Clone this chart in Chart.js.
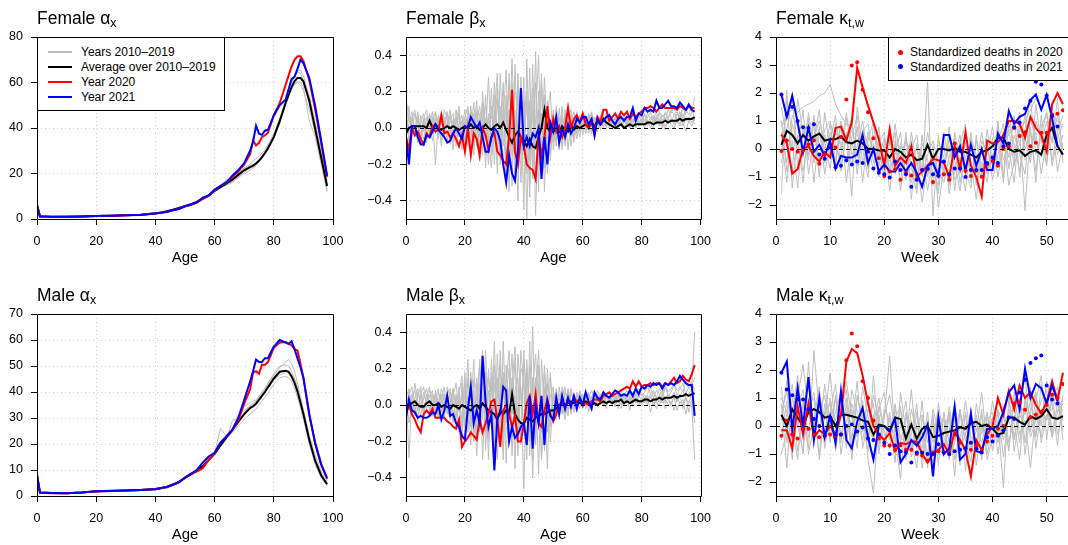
<!DOCTYPE html>
<html>
<head>
<meta charset="utf-8">
<script src="https://cdn.jsdelivr.net/npm/chart.js@4"></script>
<style>
  html, body { margin: 0; padding: 0; background: #fff; overflow: hidden; }
  #page { position: relative; width: 1068px; height: 545px; overflow: hidden;
          font-family: "Liberation Sans", Arial, Helvetica, sans-serif; color: #000; }
  canvas { position: absolute; }
  .ttl { position: absolute; font-size: 17.5px; line-height: 18px; white-space: nowrap; }
  .ttl sub { font-size: 12.5px; vertical-align: -3px; line-height: 0; }
  .lgd { position: absolute; background: #fff; border: 1px solid #000; box-sizing: border-box; font-size: 12px; }
  .it { position: absolute; height: 14px; line-height: 14px; white-space: nowrap; }
  .ln { position: absolute; left: 0; top: 6px; width: 24px; height: 2px; }
  .dot { position: absolute; top: 4.5px; width: 5px; height: 5px; border-radius: 50%; }
</style>
</head>
<body>
<div id="page">
  <div class="ttl" style="left:37px;top:9px">Female α<sub>x</sub></div>
  <div class="ttl" style="left:406px;top:9px">Female β<sub>x</sub></div>
  <div class="ttl" style="left:776px;top:9px">Female κ<sub>t,w</sub></div>
  <div class="ttl" style="left:37px;top:286px">Male α<sub>x</sub></div>
  <div class="ttl" style="left:406px;top:286px">Male β<sub>x</sub></div>
  <div class="ttl" style="left:776px;top:286px">Male κ<sub>t,w</sub></div>
</div>
<script>
// ---- x values ----
const alphaAges = [0,1,5,10,15,20,25,30,35,
  40,42,44,46,48,50,52,54,56,58,60,62,64,66,68,70,72,
  73,74,75,76,77,78, 80,82,84, 85,86,87,88,89,90, 92,94,96,98];
const betaAges = Array.from({ length: 99 }, (_, i) => i);
const weeks = Array.from({ length: 53 }, (_, i) => i + 1);

// ---- tick labels ----
const ageTicks = [0, 20, 40, 60, 80, 100];
const weekTicks = [0, 10, 20, 30, 40, 50];
const femAlphaTicks = [0, 20, 40, 60, 80];
const maleAlphaTicks = [0, 10, 20, 30, 40, 50, 60, 70];
const betaTicks = [-0.4, -0.2, 0, 0.2, 0.4];
const kappaTicks = [-2, -1, 0, 1, 2, 3, 4];

// ---- Female alpha ----
const fAlphaAvg = [6.0,1.2,1.0,1.0,1.1,1.3,1.4,1.6,1.9,
  2.5,2.9,3.4,4.1,4.8,5.6,6.4,7.5,8.9,10.4,12.3,14.0,15.6,17.3,19.4,21.4,22.8,
  23.5,24.4,25.6,27.2,29.0,31.0, 36.0,43.0,51.0, 54.5,58.0,60.5,62.0,62.0,60.5, 52.0,39.5,27.0,14.5];
const fAlpha2020 = [6.2,1.1,0.9,1.0,1.1,1.3,1.4,1.6,1.9,
  2.4,2.7,3.1,3.8,4.5,5.6,6.1,7.2,8.8,10.1,12.6,14.6,16.0,18.3,20.8,24.0,28.5,
  34.5,32.3,33.5,36.0,36.8,37.8, 45.5,51.0,59.0, 63.0,67.0,70.0,71.5,71.5,69.5, 61.0,48.0,33.5,18.5];
const fAlpha2021 = [6.0,1.1,1.0,1.0,1.1,1.3,1.4,1.6,1.8,
  2.4,2.8,3.2,3.9,4.4,5.6,6.5,7.3,9.4,10.3,12.9,14.6,16.2,19.0,21.5,24.5,30.0,
  34.0,41.0,37.5,37.0,38.8,39.2, 45.5,50.0,52.5, 57.0,61.5,62.5,66.0,70.0,68.5, 62.0,49.5,34.5,19.0];
const fAlphaYears = [
  [6.5,1.3,1.0,1.0,1.1,1.3,1.5,1.7,2.0,
   2.6,3.1,3.7,4.4,5.2,5.9,6.8,7.9,9.2,10.8,12.5,14.2,14.8,16.0,18.5,20.0,21.5,
   22.5,23.5,25.0,26.5,28.5,30.5, 35.5,42.0,50.5, 54.0,57.0,59.0,60.0,59.0,56.5, 48.0,38.0,25.5,12.5],
  [5.5,1.2,1.0,1.0,1.1,1.3,1.4,1.6,1.9,
   2.5,2.9,3.3,4.0,4.9,5.4,6.3,7.6,8.7,10.4,12.0,13.8,17.5,17.0,19.0,22.0,23.5,
   24.0,25.0,26.0,27.5,29.5,32.0, 37.0,44.0,52.5, 56.0,60.0,63.0,64.5,64.0,61.0, 50.5,41.0,28.0,15.5],
  [6.0,1.2,1.0,1.0,1.1,1.3,1.4,1.7,1.9,
   2.6,3.0,3.5,4.3,5.0,5.8,6.6,7.6,9.0,10.6,12.5,14.2,15.0,16.5,18.0,20.5,22.5,
   23.0,24.0,25.5,27.0,29.0,31.5, 36.5,43.5,51.5, 55.0,59.0,62.5,65.0,65.5,63.0, 54.0,42.5,29.5,16.5],
  [6.3,1.2,1.0,1.0,1.1,1.3,1.4,1.6,1.9,
   2.5,2.8,3.3,3.9,4.6,5.5,6.2,7.2,8.7,10.0,12.2,13.6,15.2,16.8,20.0,22.5,24.0,
   25.5,26.5,27.5,29.0,30.5,32.5, 37.5,44.0,51.0, 54.5,57.5,59.5,60.5,60.0,58.0, 43.0,36.0,24.0,12.0],
];

// ---- Male alpha ----
const mAlphaAvg = [8.0,1.3,1.2,1.1,1.3,1.8,1.9,2.1,2.3,
  2.7,3.1,3.6,4.4,5.5,7.0,8.3,9.7,11.5,13.8,16.2,19.5,22.5,25.5,28.5,31.5,33.8,
  34.5,35.5,37.0,38.5,40.0,41.8, 45.2,47.8,48.2, 47.8,46.0,43.5,40.2,36.0,31.5, 21.5,13.5,8.0,4.5];
const mAlpha2020 = [8.2,1.2,1.1,1.1,1.3,1.7,1.9,2.1,2.3,
  2.6,3.0,3.4,4.3,5.3,7.2,8.6,9.4,10.7,14.0,16.5,20.5,23.0,25.5,29.0,35.5,41.0,
  47.5,48.0,47.0,50.5,50.5,51.5, 57.0,59.0,59.2, 58.5,58.0,56.5,56.0,51.0,45.5, 31.0,20.5,12.5,6.5];
const mAlpha2021 = [8.0,1.3,1.2,1.1,1.3,1.8,2.0,2.1,2.3,
  2.6,3.1,3.5,4.4,5.2,7.0,8.5,10.0,12.8,15.2,16.6,20.5,22.8,25.3,30.0,37.0,44.0,
  48.0,52.5,51.5,51.5,53.0,53.0, 57.5,60.0,59.0, 58.5,59.5,56.5,53.0,49.5,45.5, 31.5,20.0,12.0,7.0];
const mAlphaYears = [
  [8.5,1.3,1.2,1.1,1.3,1.8,1.9,2.1,2.4,
   2.9,3.3,3.9,4.7,5.8,7.2,8.5,10.0,11.8,14.0,16.5,26.0,23.0,25.0,28.0,32.0,35.0,
   35.5,36.5,38.0,39.5,41.0,43.0, 46.5,49.5,51.5, 52.5,51.0,48.0,43.5,38.5,33.0, 22.0,13.0,7.5,4.2],
  [7.8,1.3,1.2,1.1,1.3,1.8,1.9,2.1,2.3,
   2.7,3.0,3.5,4.3,5.4,6.8,8.1,9.6,11.3,13.5,16.0,19.0,22.0,29.0,30.0,34.5,36.0,
   36.5,37.0,38.5,40.0,41.5,43.5, 47.0,50.0,50.5, 50.0,48.0,45.0,41.5,36.5,31.0, 20.0,12.0,7.0,4.0],
  [8.0,1.3,1.2,1.1,1.3,1.8,1.9,2.1,2.3,
   2.7,3.1,3.6,4.4,5.6,7.0,8.2,9.8,11.6,13.9,16.0,19.0,22.0,24.5,27.0,29.5,31.5,
   32.5,33.5,35.0,36.5,38.0,39.5, 43.0,45.5,46.0, 45.5,44.0,41.5,38.0,34.0,29.5, 20.5,13.0,8.0,4.8],
  [7.5,1.3,1.2,1.1,1.3,1.8,1.9,2.1,2.3,
   2.8,3.2,3.7,4.5,5.6,7.1,8.4,9.9,11.7,14.2,16.8,20.0,23.5,26.0,31.0,33.0,34.5,
   35.5,36.5,37.5,38.5,40.0,41.5, 44.5,46.5,47.5, 48.0,47.0,45.0,42.0,37.5,33.0, 23.5,15.5,9.5,5.5],
];

// ---- Female beta (ages 0..98) ----
const fBetaAvg = [
  -.03,.00,.01,.01,.01,.01,.01,.00,.04,.00,  .02,.00,-.01,.00,.01,.00,.01,.00,-.01,.00,
  .01,.00,.02,.00,.01,-.01,.00,.02,.00,-.01,  .01,.02,.00,.03,-.01,-.05,-.08,-.04,-.02,-.05,
  -.07,-.10,-.06,-.10,-.11,-.05,.00,.10,.00,-.02,  -.02,.00,-.02,.01,-.01,-.02,.02,-.01,.01,.00,
  .01,.02,.00,.03,.01,.04,.02,.05,.03,.02,  .01,.00,.01,.02,.00,.01,.02,.01,.02,.02,
  .02,.02,.03,.03,.02,.03,.03,.03,.04,.03,  .04,.04,.04,.05,.04,.05,.05,.05,.06];
const fBeta2020 = [
  -.05,-.12,.00,-.04,-.02,-.06,-.09,-.03,-.05,.01,  -.02,-.01,.07,-.03,-.02,-.05,-.03,-.06,-.10,-.04,
  -.13,.00,-.15,-.03,-.06,-.15,.00,-.04,-.12,-.05,  -.03,-.13,-.15,-.18,-.20,-.05,.21,-.13,-.20,-.05,
  -.10,-.20,-.22,-.23,-.28,-.05,-.15,-.05,.12,-.05,  .05,-.02,.01,-.05,.00,.11,.00,.05,.07,.03,
  .08,.02,.00,.04,-.04,.06,.03,.10,.10,.04,  .06,.08,.05,.09,.07,.09,.05,.08,.06,.08,
  .09,.11,.11,.12,.11,.09,.11,.13,.11,.11,  .11,.11,.10,.12,.11,.10,.12,.11,.11];
const fBeta2021 = [
  -.05,-.20,.01,.01,-.05,-.09,-.09,-.04,-.05,-.02,  .02,-.01,-.03,-.05,-.08,-.07,-.03,.00,-.03,-.06,
  .01,.00,.06,.03,.00,.03,-.05,-.13,-.13,-.05,  .00,-.02,-.07,-.20,-.30,-.15,-.25,-.29,-.12,.22,
  -.10,-.05,-.10,-.03,-.05,.00,-.28,-.05,-.20,.03,  -.02,.06,-.08,.00,-.05,.02,-.03,.00,.05,.03,
  .06,.06,.02,.05,-.04,.05,.02,.04,.06,.07,  .04,.02,.05,.06,.04,.06,.06,.11,.04,.08,
  .07,.11,.09,.10,.09,.15,.11,.11,.13,.15,  .12,.12,.11,.14,.12,.10,.13,.10,.09];
const fBetaYears = [
  [.17,.05,-.02,.08,.03,-.06,.05,.10,-.03,.06,  -.20,.04,.08,-.05,.02,.10,-.08,.03,.12,-.06,
   .05,-.10,.12,-.04,.15,-.12,.20,-.05,.28,-.15,  .10,-.25,.30,-.10,.18,-.35,.25,-.20,.05,.15,
   -.45,.38,-.18,.10,-.30,.20,-.15,.18,-.25,.05,  -.08,.10,-.12,.05,-.02,.08,-.10,.06,.02,-.05,
   .06,-.03,.08,.01,.05,-.02,.07,.03,.06,.02,  .05,.01,.06,.03,.04,.02,.07,.04,.05,.03,
   .06,.04,.08,.05,.07,.03,.09,.06,.08,.05,  .10,.07,.09,.06,.11,.08,.12,.09,.10],
  [.10,-.08,.06,-.03,.09,-.05,.04,-.08,.07,.02,  .05,-.06,.09,.02,-.07,.04,.08,-.10,.02,.07,
   -.08,.10,-.02,.14,-.06,.08,-.15,.18,-.10,.22,  -.20,.15,-.05,.25,-.28,.10,-.32,.35,-.12,-.20,
   .28,-.50,.15,-.22,.42,-.35,.25,-.10,.12,-.18,  .06,-.10,.11,-.05,.08,-.12,.04,.09,-.03,.07,
   -.04,.05,.02,.08,-.01,.04,.06,.00,.05,.03,  .02,.06,.00,.05,.03,.07,.01,.04,.06,.02,
   .04,.07,.02,.06,.03,.05,.08,.02,.06,.04,  .03,.07,.05,.02,.08,.04,.06,.03,.05],
  [.03,.12,-.05,.02,-.08,.07,-.02,.05,.00,-.07,  .08,.00,-.04,.10,.05,-.09,.02,.06,-.05,.00,
   .10,-.04,.06,-.10,.03,.12,-.02,-.15,.08,.05,  .18,-.08,.12,-.22,.05,.25,-.15,.10,-.40,.28,
   -.10,.15,-.30,.35,-.12,-.05,.30,-.35,.08,.20,  -.12,.04,-.05,.12,-.08,.03,.10,-.06,.05,-.02,
   .03,.07,-.03,.04,.06,.01,.03,.08,.00,.05,  .04,.00,.05,.02,.06,.01,.03,.05,.00,.04,
   .02,.05,.01,.04,.06,.02,.03,.05,.01,.04,  .05,.02,.04,.07,.01,.05,.03,.06,.02],
  [-.05,.02,.09,-.02,.05,.00,-.06,.02,.08,-.03,  .00,.07,-.08,.03,.09,-.03,.05,-.05,.09,-.12,
   .02,.06,-.08,.08,-.10,.00,.10,.05,-.20,.12,  -.05,.22,-.15,.05,.32,-.18,.08,-.25,.30,-.08,
   .12,-.20,.33,-.28,.05,.40,-.20,.05,-.10,-.05,  .10,-.06,.02,-.10,.06,.05,-.05,.02,.09,.00,
   .05,.00,.06,-.02,.04,.07,.02,.05,.01,.06,  .03,.05,.02,.07,.00,.05,.03,.02,.06,.01,
   .05,.00,.04,.02,.00,.06,.01,.03,-.01,.05,  .02,.00,.04,.01,.03,-.02,.04,.01,.05],
  [.08,-.03,.04,.10,-.06,.03,.08,-.04,.01,.09,  -.03,.05,-.10,.06,.00,.07,-.04,.10,-.02,.04,
   -.12,.04,.09,-.15,.10,-.05,.14,-.22,.06,-.08,  .25,-.12,.08,.15,-.22,.30,-.08,.20,.12,-.30,
   .05,.20,-.38,.22,-.48,.10,-.12,.28,-.05,-.15,  .08,-.04,.06,-.12,.10,-.03,.07,-.08,.04,.06,
   .00,.04,.07,-.03,.06,.02,.05,.01,.08,.00,  .06,.03,.01,.05,.08,.02,.06,.00,.04,.07,
   .03,.08,.04,.00,.05,.09,.02,.07,.04,.10,  .06,.03,.08,.05,.12,.07,.04,.09,.17],
  [-.02,.06,.00,-.05,.07,-.09,.03,.06,-.02,.04,  .09,-.04,.03,-.02,.08,.00,-.12,.05,.07,-.03,
   .06,.12,-.04,.02,.08,-.18,.06,.12,-.05,-.22,  .08,.30,-.20,.12,.06,-.10,.38,-.05,.20,-.15,
   .15,-.25,.05,-.15,.25,-.20,.08,-.22,.15,.00,  -.05,.12,-.02,.07,-.10,.09,-.02,.04,-.06,.03,
   .07,-.02,.04,.09,.00,.05,-.01,.06,.03,.08,  .00,.04,.07,.01,.03,.06,.00,.08,.03,.05,
   .07,.02,.06,.09,.03,.07,.05,.00,.09,.06,  .08,.12,.03,.09,.05,.10,.07,.12,.04],
];

// ---- Male beta (ages 0..98) ----
const mBetaAvg = [
  -.02,.00,.01,.02,.00,-.01,-.01,.01,.02,.00,  .00,.01,-.01,.00,-.01,-.02,.00,-.01,-.02,.00,
  -.01,-.02,-.03,-.01,.00,-.02,.01,-.01,-.03,-.04,  -.05,-.08,-.03,-.05,-.03,-.05,.06,-.05,-.08,-.10,
  -.10,-.07,-.08,-.09,-.07,-.06,-.05,-.05,-.04,-.03,  -.03,-.02,.00,.01,.00,.01,.02,.01,.02,.01,
  .01,.02,.01,.00,.01,.00,.01,.02,.01,.02,  .01,.02,.02,.03,.01,.02,.01,.02,.03,.02,
  .02,.03,.03,.02,.03,.03,.04,.03,.04,.04,  .04,.05,.04,.05,.05,.06,.05,.06,.065];
const mBeta2020 = [
  -.05,.00,-.05,-.08,-.12,-.15,-.05,-.03,-.05,-.02,  -.07,-.07,-.07,-.07,-.09,-.10,-.12,-.13,-.08,-.23,
  -.20,-.18,-.15,-.17,-.19,-.08,-.15,-.10,-.05,.02,  .03,-.08,-.23,-.03,.00,-.05,-.12,-.06,-.20,-.20,
  -.10,.01,.05,-.05,.06,-.10,-.12,-.03,.03,-.05,  -.09,-.05,.00,.02,-.02,.03,.00,.04,.02,.03,
  .00,.01,.00,.02,.03,.03,.02,.05,.06,.07,  .05,.06,.07,.08,.09,.10,.09,.13,.10,.13,
  .10,.11,.11,.12,.11,.12,.12,.10,.12,.11,  .13,.15,.12,.13,.16,.14,.13,.17,.22];
const mBeta2021 = [
  -.07,.03,-.03,-.04,-.07,-.06,-.07,-.07,-.06,-.04,  -.05,.00,-.08,-.03,.05,-.06,-.05,-.10,-.12,-.17,
  -.19,-.02,.10,-.10,-.03,-.10,.27,.02,-.12,-.05,  -.36,-.07,-.05,.10,.08,-.20,-.12,-.18,-.16,-.12,
  -.10,-.22,.05,-.24,.00,-.10,.05,-.22,.02,-.06,  -.08,.04,-.05,.05,-.02,.04,-.01,.05,-.02,.04,
  .00,.07,.02,-.02,.07,.04,.03,.07,.05,.04,  .06,.08,.07,.05,.06,.05,.08,.05,.09,.06,
  .10,.09,.11,.10,.12,.11,.12,.09,.12,.11,  .12,.11,.13,.16,.14,.12,.11,.11,-.06];
const mBetaYears = [
  [.10,-.29,.05,.08,-.03,.06,.10,-.02,.05,.08,  -.05,.07,.02,-.08,.10,.04,-.10,.06,-.15,.12,
   -.20,.15,-.05,.25,-.18,.10,.30,-.25,.08,-.12,  .35,-.20,.12,-.30,.22,-.08,.15,-.35,.28,.05,
   -.46,.20,-.15,.43,-.22,.12,-.30,.18,.05,-.12,  .08,-.05,.10,.00,-.08,.06,.02,-.04,.07,.01,
   .04,-.02,.06,.02,.05,-.01,.03,.06,.00,.04,  .02,.05,-.02,.04,.06,.01,.03,.07,.02,.05,
   .03,.06,.01,.04,.07,.02,.05,.08,.03,.06,  .04,.07,.02,.05,.08,.03,.06,.09,.40],
  [-.05,.08,-.03,.12,.02,-.06,.04,.09,-.04,.02,  .06,-.03,.09,.04,-.05,.08,.02,-.07,.10,-.12,
   .08,-.10,.18,-.15,.05,.22,-.08,.30,-.18,.12,  -.25,.28,-.10,.18,-.32,.10,-.05,.25,-.15,.30,
   .10,-.30,.35,-.20,.15,-.38,.25,-.05,.10,.15,  -.06,.09,-.02,.05,.10,-.04,.06,.03,-.03,.07,
   .02,.06,-.01,.04,.00,.05,.02,.07,.01,.04,  .00,.04,.02,-.02,.05,.01,.04,.00,.06,.02,
   .01,.04,.00,.05,.02,-.02,.04,.01,.03,.00,  .02,-.03,.04,.01,.03,-.05,.02,.00,-.30],
  [.02,.05,.10,-.06,.07,.03,-.05,.06,.01,-.06,  .04,.09,-.04,.06,-.02,-.08,.05,.12,-.04,.05,
   -.05,.25,-.12,.08,-.28,.05,.12,-.15,.20,-.06,  .12,-.10,.30,-.15,.05,.20,-.28,.08,.15,-.22,
   .30,-.05,-.20,.10,.28,-.12,.05,-.25,.20,-.08,  .05,.00,-.06,.10,.02,.08,-.05,.06,.04,-.02,
   .06,.01,.04,.08,.02,.06,.00,.03,.05,.01,  .06,.03,.07,.02,.05,.08,.04,.02,.06,.09,
   .05,.07,.10,.06,.08,.04,.09,.06,.11,.07,  .09,.12,.08,.10,.07,.13,.09,.11,.15],
  [.06,-.10,.00,.04,.09,-.02,.07,.00,.08,.04,  -.02,.03,.06,.01,.07,-.04,.08,.00,.05,-.18,
   .12,-.05,.08,-.20,.15,-.12,.05,.18,-.30,.25,  -.08,.15,-.22,.35,-.10,.05,.28,-.12,-.05,.10,
   -.15,.25,-.08,-.30,.12,.20,-.15,.10,-.35,.18,  -.10,.06,.04,-.05,.08,.02,.09,-.02,.05,.03,
   -.02,.04,.07,.00,.06,.03,.05,-.01,.04,.07,  .01,.03,.05,.00,.02,.04,-.03,.05,.01,.03,
   .00,.02,.05,-.04,.03,.01,.00,.04,-.02,.02,  .01,.04,-.03,.02,.00,.05,-.04,.03,-.10],
  [.04,.09,-.06,.02,-.09,.08,-.03,.05,.10,-.05,  .08,-.06,.03,.10,-.04,.00,.09,-.12,.06,.16,
   -.12,.05,-.22,.14,.08,-.15,.20,-.08,-.20,.18,  -.15,.05,.22,-.25,.12,.30,-.18,.05,-.28,.20,
   .15,-.10,.22,-.40,.05,.30,-.10,.22,-.15,.05,  .10,-.08,.06,.02,-.05,.09,-.03,.05,.00,.08,
   .03,.07,-.04,.05,.02,.08,.04,.00,.06,.03,  .05,.00,.04,.08,.03,.06,.02,.05,.09,.04,
   .07,.03,.06,.10,.04,.08,.06,.03,.10,.05,  .07,.11,.05,.09,.12,.06,.10,.13,.08],
  [-.08,.02,.06,-.04,.05,.10,-.06,.03,-.02,.06,  .02,-.07,.05,-.03,.06,.09,-.06,.04,.02,-.08,
   .18,-.15,.10,.02,-.12,.25,-.30,.10,.15,-.10,  .22,-.30,.05,.15,-.12,-.20,.10,.32,-.10,-.18,
   .25,.05,-.28,.15,-.05,.22,-.30,.05,.12,-.20,  .03,.07,-.08,.05,.00,-.06,.08,.01,-.04,.05,
   .05,.00,.03,-.03,.07,.01,.06,.02,-.02,.05,  .03,-.01,.06,.02,.00,.04,.07,.01,.03,.00,
   .04,.01,.03,.06,.00,.04,.02,.06,.01,.04,  .00,.05,.02,.06,-.02,.04,.01,.06,.05],
];

// ---- Female kappa (weeks 1..53) ----
const fKappaAvg = [0.15,0.65,0.5,0.2,0.5,0.3,0.45,0.55,0.3,0.35,  0.35,0.45,0.25,0.2,0.3,0.2,0.0,0.0,-0.05,-0.05,
  -0.3,0.0,-0.1,-0.3,-0.2,-0.4,-0.35,0.15,-0.35,0.0,  0.0,-0.05,0.05,-0.1,-0.1,-0.2,-0.3,-0.1,-0.05,0.1,
  0.4,0.4,0.0,-0.1,-0.05,-0.25,-0.1,-0.05,-0.2,0.5,  0.75,0.1,-0.2];
const fKappa2020 = [0.52,0.2,-0.88,-0.72,0.0,0.1,-0.25,-0.45,-0.1,-0.3,  0.75,0.8,0.3,0.95,2.9,2.2,1.55,0.95,0.35,-0.6,
  0.7,-0.6,-0.3,-0.5,0.1,-1.0,-0.8,-0.6,-0.35,-0.4,  -0.5,-1.0,0.1,-0.7,0.6,-0.6,-1.0,-1.7,0.3,0.2,
  0.25,0.5,1.0,1.0,0.9,0.4,1.15,0.75,0.5,-0.1,  1.6,2.0,1.6];
const fKappa2021 = [1.95,1.15,1.9,0.95,-0.1,0.75,-0.1,0.15,-0.25,0.3,  -0.7,-0.25,-0.3,-0.3,-0.2,0.5,-0.5,0.0,-0.8,-0.55,
  -0.8,-0.8,-0.5,-0.8,-0.5,-0.85,-1.35,-0.6,-0.5,-0.95,  0.5,0.5,-0.3,0.1,-0.75,0.15,-0.6,0.0,-0.75,-0.75,
  0.55,0.2,1.35,0.9,1.15,1.25,1.75,1.95,1.4,1.94,  1.1,0.1];
const fDeaths2020 = [-0.07,0.3,0.0,-0.1,-0.05,0.17,0.3,-0.53,-0.2,0.05,  0.05,0.43,1.77,2.98,3.1,2.12,1.31,0.38,-0.33,-0.96,
  -0.8,-0.72,-1.1,-0.85,-0.95,-1.08,-0.75,-0.72,-1.18,-0.96,  -0.9,-1.1,0.2,-0.64,-0.78,-0.96,-0.78,-0.99,-0.55,-0.43,
  -0.6,0.0,0.1,0.75,0.46,0.6,0.1,0.22,0.58,0.58,  1.23,1.26,1.38];
const fDeaths2021 = [1.95,1.25,1.5,1.0,0.78,0.75,0.88,-0.2,-0.35,0.05,  -0.65,-0.6,-0.4,-0.55,-0.45,-0.5,-0.1,-0.7,-0.85,-0.9,
  -1.02,-0.45,-0.75,-0.9,-1.35,-1.1,-0.75,-0.7,-0.9,-0.95,  -0.45,-0.9,-0.7,-0.7,-1.0,-0.75,-0.75,-0.75,-0.5,-0.3,
  -0.5,0.1,0.2,0.78,0.95,1.45,1.72,2.4,2.3,1.9,  1.18,0.8];
const fKappaYears = [
  [0.8,1.2,1.4,1.3,1.5,1.6,1.7,1.9,2.0,2.3,  1.6,1.2,0.9,0.6,0.5,0.2,0.1,-0.1,-0.3,-0.5,
   -0.4,-0.6,-0.5,-0.8,-0.7,-0.9,-0.6,-0.8,-1.0,-0.7,  -0.5,-0.8,-0.6,-0.4,-0.7,-0.5,-0.3,-0.6,-0.4,-0.2,
   0.0,0.3,0.5,0.8,0.6,1.0,1.4,1.8,1.5,1.9,  1.2,1.0,0.8],
  [-1.6,2.1,-1.4,0.5,-1.2,1.0,-0.5,0.8,-0.9,0.3,  1.2,-0.8,0.6,-1.7,1.5,0.0,-1.0,0.9,-0.3,0.4,
   -1.5,0.3,-1.2,0.6,-1.8,0.2,-0.9,2.4,-2.4,0.5,  -1.0,0.8,-1.5,0.2,0.9,-1.2,0.3,-0.8,0.7,-0.5,
   1.0,-1.0,1.5,-0.3,0.6,-2.2,0.8,-1.2,1.2,-0.5,  0.9,-0.8,0.2],
  [1.0,-0.8,0.3,-1.4,0.8,-0.4,1.2,-0.6,0.5,-0.2,  0.6,0.2,-0.5,0.9,-0.3,0.4,-0.7,0.2,-1.0,0.1,
   0.4,-0.9,0.2,-0.4,-1.2,-0.3,-1.9,-0.5,-0.8,-1.3,  0.2,-1.6,-0.2,0.5,-1.0,0.6,-1.3,0.3,-0.2,0.8,
   -0.6,0.5,-0.3,1.2,-1.0,0.4,-0.5,1.6,0.2,1.0,  -0.4,0.6,1.2],
  [-0.5,0.7,1.9,-0.6,0.4,1.1,-1.2,0.6,0.0,0.9,  -0.4,1.0,0.3,-0.6,0.8,-1.2,0.6,-0.2,0.8,-0.9,
   -0.2,0.6,-1.5,-0.1,0.3,-1.4,0.5,-1.0,0.1,-2.1,  -0.6,0.1,-1.1,-0.8,0.2,-0.5,-1.8,0.1,-0.9,-0.3,
   0.4,-1.2,0.9,0.2,-0.8,0.7,1.8,-0.2,0.5,1.3,  0.2,1.8,-0.5],
  [0.4,-1.2,0.9,0.2,-0.8,0.5,0.3,1.4,-0.5,0.6,  0.0,-0.3,1.1,0.3,-0.6,0.7,0.2,-0.8,0.5,-0.4,
   0.8,-0.5,0.1,-0.9,0.6,-0.6,-0.2,-1.5,-0.3,-0.8,  -1.2,-0.3,0.4,-1.2,-0.3,0.1,-0.6,-1.0,0.2,-1.1,
   -0.2,0.6,-1.3,-0.5,1.3,-0.4,0.0,0.6,-0.9,0.4,  1.0,-0.2,0.5],
  [1.5,0.3,-0.8,1.8,0.6,-0.2,0.9,-1.0,1.3,0.0,  -0.6,0.9,-1.2,0.4,1.2,-0.5,0.3,1.0,-0.6,0.2,
   -0.7,0.9,-0.4,0.4,-0.6,-1.6,0.2,-0.4,-1.3,0.3,  -0.3,-1.3,0.6,-0.5,-1.5,0.4,-0.2,-0.5,-1.2,0.4,
   -1.0,0.2,0.7,-0.6,0.2,1.2,-0.3,1.0,0.4,-0.6,  1.5,0.6,-0.2],
  [-0.2,1.8,0.5,0.0,1.4,-0.9,0.4,1.0,0.2,-0.7,  0.9,0.0,1.3,-0.2,0.1,1.0,-0.4,0.5,0.0,-1.1,
   0.3,-0.2,0.6,-1.1,0.0,0.5,-0.8,0.6,-0.5,-1.6,  0.6,-0.5,-0.9,0.3,-0.8,-1.4,0.5,-0.9,0.0,-0.6,
   0.8,-0.4,0.1,-1.2,0.9,0.0,0.6,-0.8,0.8,1.3,  -0.6,0.4,0.9],
  [0.6,-0.5,1.2,0.8,-0.3,1.3,0.0,-0.4,0.7,1.0,  0.2,-0.6,0.5,1.1,-0.9,0.6,0.9,-0.5,0.2,0.6,
   -0.9,0.1,-0.7,0.3,-0.3,0.0,-1.0,-0.2,0.3,-0.5,  -0.8,0.4,-0.4,-1.5,0.0,-0.9,-0.6,0.6,-0.6,-0.8,
   0.3,0.9,-0.7,0.5,-0.2,-0.9,1.1,0.3,-0.3,0.7,  0.3,1.2,0.0],
];

// ---- Male kappa (weeks 1..53) ----
const mKappaAvg = [0.4,0.0,0.6,0.3,0.0,0.5,0.6,0.5,0.3,0.35,  0.0,0.4,0.4,0.35,0.3,0.2,0.15,-0.3,0.05,0.0,
  -0.2,0.3,0.25,-0.45,0.05,-0.45,-0.1,0.0,-0.4,-0.35,  -0.25,-0.2,-0.15,-0.05,-0.1,0.1,0.15,0.0,0.05,-0.1,
  -0.3,-0.25,0.3,0.3,0.15,0.05,0.35,0.25,0.35,0.6,  0.3,0.25,0.35];
const mKappa2020 = [-0.15,-0.15,-0.8,0.7,-0.3,0.8,-0.4,-0.15,-0.3,0.0,  -0.3,0.4,2.3,2.75,2.6,1.8,0.8,0.0,-0.3,-0.5,
  -0.25,-0.9,-0.6,-0.65,-0.55,-0.55,-1.0,-1.3,-1.0,-0.85,  -0.65,-1.0,-0.2,-0.5,-0.85,-1.8,-0.5,-0.85,-0.3,0.0,
  1.0,0.4,1.25,0.6,1.45,1.0,1.2,0.75,0.45,0.85,  1.6,0.9,1.9];
const mKappa2021 = [1.9,2.3,-0.15,1.35,0.0,1.75,-0.5,1.0,-0.4,0.35,  -0.6,1.25,-0.5,-0.8,0.15,0.65,-0.4,-1.2,0.0,0.0,
  -0.15,0.25,-1.3,-1.0,-0.5,-0.7,-0.4,0.05,-1.8,0.3,  -1.0,-0.8,0.7,-1.2,-1.0,0.45,-0.9,-0.95,-0.1,-0.1,
  0.0,0.5,1.2,1.45,0.6,2.05,1.0,1.5,1.35,0.8,  1.45,0.9];
const mDeaths2020 = [-0.35,0.2,-0.3,-0.45,-0.1,-0.1,-0.3,-0.4,-0.35,-0.3,  -0.35,-0.3,2.35,3.3,2.85,1.6,1.0,0.2,-0.45,-0.7,
  -0.7,-0.85,-0.7,-0.85,-0.85,-1.0,-1.05,-1.25,-0.95,-0.9,  -0.95,-1.0,-0.3,-0.6,-0.8,-0.85,-0.7,-0.85,-0.55,-0.35,
  -0.1,0.0,0.3,0.8,0.85,0.58,0.3,0.4,0.5,0.75,  1.12,1.0,1.5];
const mDeaths2021 = [1.9,1.3,1.1,0.95,0.95,0.6,0.25,0.0,-0.35,0.3,  -0.3,-0.3,0.0,0.05,-0.2,-0.05,-0.45,-0.5,-0.3,-0.6,
  -1.0,-0.7,-0.9,-0.95,-1.3,-0.95,-0.95,-1.0,-1.0,-0.65,  -0.95,-1.0,-0.9,-0.85,-0.8,-0.6,-0.8,-0.95,-0.4,-0.55,
  -0.35,-0.15,0.3,0.25,1.2,1.65,2.25,2.42,2.52,1.45,  0.95,0.8];
const mKappaYears = [
  [0.8,-1.5,1.0,0.3,-1.0,2.3,-0.5,1.2,-0.8,0.5,  1.5,-0.6,0.8,-1.2,1.1,0.2,-0.9,1.8,-0.6,0.3,
   2.5,-0.5,0.6,-1.2,0.2,-0.8,0.9,-1.5,0.2,-0.6,  -1.1,0.4,-1.8,0.6,-0.5,-1.3,0.8,-0.3,0.5,-0.9,
   0.2,-2.2,1.0,-0.4,0.5,1.8,-0.2,0.9,1.8,-0.5,  1.2,0.5,1.0],
  [-0.5,0.9,-1.2,1.6,0.2,-0.8,2.7,0.5,-0.3,1.0,  -0.9,0.5,1.6,0.3,-0.4,0.9,-1.2,-2.4,0.4,-0.8,
   0.3,-1.3,1.2,-0.2,-0.9,0.5,-1.2,0.2,-1.0,0.8,  -0.4,-0.9,0.3,-1.4,0.5,-0.6,-0.2,1.2,-0.7,0.3,
   -0.6,0.5,-0.9,1.2,-0.3,0.2,-1.5,0.6,-0.4,1.0,  -0.3,0.8,0.2],
  [1.0,0.5,-0.3,1.0,2.2,0.4,1.2,-0.2,1.5,0.0,  0.5,1.2,-0.4,0.8,0.2,-0.5,0.6,0.1,1.0,-0.3,
   -0.8,0.6,-0.4,-0.6,1.3,-0.8,-0.2,-1.0,0.4,-1.4,  0.5,-0.6,-0.2,0.6,-1.6,0.2,-0.8,0.4,-1.2,-0.4,
   0.6,0.0,-0.8,0.9,1.3,-0.6,0.6,1.2,0.0,1.6,  0.8,-0.7,1.1],
  [-1.0,-0.2,0.7,-0.9,0.6,1.6,-0.5,0.9,0.2,1.9,  -0.2,0.6,1.3,-0.5,1.0,0.3,-0.6,0.4,-0.8,0.6,
   0.2,-0.4,-1.9,0.5,-0.8,0.0,-0.5,-1.2,0.6,-0.2,  -1.0,0.7,-0.5,-0.1,0.4,-1.0,0.1,-0.6,0.2,0.5,
   -1.0,0.3,0.2,-0.5,0.8,0.4,1.4,-0.8,0.6,0.2,  0.9,1.4,-0.2],
  [0.5,1.2,0.0,-1.2,0.9,-0.4,0.3,-1.0,0.8,-0.6,  1.1,-1.0,0.2,0.6,-0.8,1.4,0.3,-0.6,0.7,-0.2,
   -0.5,0.3,0.7,-1.0,-0.3,0.8,-1.5,0.0,-0.6,0.3,  0.2,-1.2,0.6,-0.8,-0.3,0.4,-0.9,-1.0,-0.2,0.3,
   0.4,-0.5,0.6,0.1,-1.2,1.0,0.3,-0.4,1.5,0.6,  -0.4,0.3,0.6],
  [1.4,-0.6,0.4,1.8,-0.5,0.8,1.0,-1.2,0.5,0.8,  0.2,1.0,-0.8,1.3,0.5,-0.2,1.1,-0.5,0.6,1.2,
   -0.4,0.8,-0.6,0.4,-0.5,-1.5,0.3,-0.6,-0.3,0.5,  -0.7,-0.2,0.8,-0.6,-0.9,0.6,-1.4,0.0,-0.5,0.9,
   -0.3,0.7,-0.6,0.3,1.0,-1.0,0.5,1.1,-0.6,0.4,  0.6,1.2,-0.5],
  [-0.2,0.4,1.5,0.0,-0.9,0.9,0.2,1.4,-0.6,0.1,  1.0,-0.3,0.5,0.0,1.6,-0.8,0.2,0.8,-1.0,0.4,
   1.1,-0.2,0.2,-0.9,0.6,-0.3,-0.8,0.5,-1.6,0.0,  0.3,-1.1,-0.6,0.5,-0.3,-0.8,0.4,-1.2,0.4,-0.5,
   0.5,-1.1,0.4,0.7,-0.6,0.9,-0.4,0.2,0.9,1.3,  -0.2,0.5,0.8],
  [0.2,1.6,-0.6,0.6,1.3,-1.0,0.0,0.6,1.1,-0.3,  -0.5,0.3,1.0,-0.8,0.2,0.6,-0.4,1.1,0.3,-0.6,
   0.5,-0.8,0.0,0.9,-1.1,0.1,0.4,-0.6,0.0,-1.0,  -0.2,0.5,-1.2,-0.5,0.9,-0.4,-0.6,0.6,-1.0,-0.1,
   -0.2,0.4,1.2,-0.9,0.4,0.0,0.9,-0.3,0.5,0.2,  1.1,-0.3,0.4],
];

// ---- drawing ----
const GRAY = '#bebebe';
const page = document.getElementById('page');
Chart.defaults.font.family = '"Liberation Sans", Arial, Helvetica, sans-serif';
Chart.defaults.color = '#000';

const xy = (xs, ys) => ys.map((y, i) => ({ x: xs[i], y }));
const line = (xs, ys, color, width, order) => ({
  data: xy(xs, ys), borderColor: color, borderWidth: width, pointRadius: 0, tension: 0, fill: false, order });
const dots = (xs, ys, color, order) => ({
  data: xy(xs, ys), showLine: false, pointRadius: 2, pointBorderWidth: 0,
  pointBackgroundColor: color, borderColor: color, order });
const minus = s => String(s).replace('-', '\u2212');

const boxPlugin = {
  id: 'box',
  defaults: { right: true },
  afterDraw(chart, args, opts) {
    const { ctx, chartArea: a, width } = chart;
    const L = Math.round(a.left) + 0.5, T = Math.round(a.top) + 0.5;
    const B = Math.round(a.bottom) + 0.5, R = opts.right ? Math.round(a.right) + 0.5 : width + 2;
    ctx.save();
    ctx.strokeStyle = '#000'; ctx.lineWidth = 1; ctx.setLineDash([]);
    ctx.beginPath();
    ctx.moveTo(R, T); ctx.lineTo(L, T); ctx.lineTo(L, B); ctx.lineTo(R, B);
    if (opts.right) ctx.closePath();
    ctx.stroke();
    ctx.restore();
  }
};
const zeroPlugin = {
  id: 'zero',
  defaults: { show: false },
  afterDatasetsDraw(chart, args, opts) {
    if (!opts.show) return;
    const { ctx, chartArea: a, scales: { y } } = chart;
    const py = Math.round(y.getPixelForValue(0)) + 0.5;
    ctx.save();
    ctx.strokeStyle = '#000'; ctx.lineWidth = 1; ctx.setLineDash([4, 3]);
    ctx.beginPath(); ctx.moveTo(a.left, py); ctx.lineTo(a.right, py); ctx.stroke();
    ctx.restore();
  }
};

const cols = [
  { cx: 0, w: 360, l: 37, r: 333 },
  { cx: 360, w: 360, l: 46, r: 343 },
  { cx: 720, w: 348, l: 56, r: 348 },
];
const rows = [
  { cy: 0, h: 272, t: 37, b: 219 },
  { cy: 272, h: 273, t: 42, b: 224 },
];

function panel(c, r, p) {
  const g = cols[c], rw = rows[r];
  const cv = document.createElement('canvas');
  cv.width = g.w; cv.height = rw.h;
  cv.style.left = g.cx + 'px'; cv.style.top = rw.cy + 'px';
  cv.style.width = g.w + 'px'; cv.style.height = rw.h + 'px';
  page.insertBefore(cv, page.firstChild);
  const axisH = rw.h - rw.b;
  const grid = { color: '#d3d3d3', lineWidth: 1, tickLength: 6, tickColor: '#000', tickWidth: 1, tickBorderDash: [] };
  const border = { display: false, dash: [1, 3] };
  new Chart(cv, {
    type: 'line',
    data: { datasets: p.datasets },
    options: {
      responsive: false, animation: false, events: [],
      layout: { padding: { left: 0, top: rw.t, right: g.w - g.r, bottom: 0 } },
      plugins: { legend: { display: false }, tooltip: { enabled: false },
                 box: { right: p.right !== false }, zero: { show: !!p.zero } },
      scales: {
        x: {
          type: 'linear', min: p.xMin, max: p.xMax,
          afterBuildTicks: s => { s.ticks = p.xTicks.map(v => ({ value: v })); },
          afterFit: s => { s.height = axisH; },
          ticks: { font: { size: 12.5 }, padding: 9, maxRotation: 0, autoSkip: false, callback: v => minus(v) },
          grid, border,
          title: { display: true, text: p.xTitle, font: { size: 15 }, padding: { top: 0, bottom: axisH - 48 } }
        },
        y: {
          type: 'linear', min: p.yMin, max: p.yMax,
          afterBuildTicks: s => { s.ticks = p.yTicks.map(v => ({ value: v })); },
          afterFit: s => { s.width = g.l; },
          ticks: { font: { size: 12.5 }, padding: 8, autoSkip: false, callback: p.yFmt },
          grid, border
        }
      }
    },
    plugins: [boxPlugin, zeroPlugin]
  });
}

function ageSets(xs, years, avg, y20, y21) {
  return [
    ...years.map(ys => line(xs, ys, GRAY, 1, 10)),
    line(xs, avg, '#000', 2, 4),
    line(xs, y20, '#ff0000', 2, 3),
    line(xs, y21, '#0000ff', 2, 2),
  ];
}
function kappaSets(years, avg, y20, y21, d20, d21) {
  return [
    ...ageSets(weeks, years, avg, y20, y21),
    dots(weeks, d20, '#ff0000', 1),
    dots(weeks, d21, '#0000ff', 0),
  ];
}

const alphaFmt = v => String(v);
const betaFmt = v => minus(v.toFixed(1));
const kappaFmt = v => minus(v);

const agePanel = { xMin: 0, xMax: 100, xTicks: ageTicks, xTitle: 'Age' };
const weekPanel = { xMin: 0, xMax: 53.2, xTicks: weekTicks, xTitle: 'Week', right: false, zero: true };

panel(0, 0, { ...agePanel, yMin: 0, yMax: 80, yTicks: femAlphaTicks, yFmt: alphaFmt,
  datasets: ageSets(alphaAges, fAlphaYears, fAlphaAvg, fAlpha2020, fAlpha2021) });
panel(1, 0, { ...agePanel, yMin: -0.5, yMax: 0.5, yTicks: betaTicks, yFmt: betaFmt, zero: true,
  datasets: ageSets(betaAges, fBetaYears, fBetaAvg, fBeta2020, fBeta2021) });
panel(2, 0, { ...weekPanel, yMin: -2.5, yMax: 4, yTicks: kappaTicks, yFmt: kappaFmt,
  datasets: kappaSets(fKappaYears, fKappaAvg, fKappa2020, fKappa2021, fDeaths2020, fDeaths2021) });
panel(0, 1, { ...agePanel, yMin: 0, yMax: 70, yTicks: maleAlphaTicks, yFmt: alphaFmt,
  datasets: ageSets(alphaAges, mAlphaYears, mAlphaAvg, mAlpha2020, mAlpha2021) });
panel(1, 1, { ...agePanel, yMin: -0.5, yMax: 0.5, yTicks: betaTicks, yFmt: betaFmt, zero: true,
  datasets: ageSets(betaAges, mBetaYears, mBetaAvg, mBeta2020, mBeta2021) });
panel(2, 1, { ...weekPanel, yMin: -2.5, yMax: 4, yTicks: kappaTicks, yFmt: kappaFmt,
  datasets: kappaSets(mKappaYears, mKappaAvg, mKappa2020, mKappa2021, mDeaths2020, mDeaths2021) });

// ---- legends ----
const lineLegend = [
  { label: 'Years 2010–2019', color: GRAY },
  { label: 'Average over 2010–2019', color: '#000' },
  { label: 'Year 2020', color: '#ff0000' },
  { label: 'Year 2021', color: '#0000ff' },
];
const dotLegend = [
  { label: 'Standardized deaths in 2020', color: '#ff0000' },
  { label: 'Standardized deaths in 2021', color: '#0000ff' },
];

const lg1 = document.createElement('div');
lg1.className = 'lgd';
Object.assign(lg1.style, { left: '37px', top: '37px', width: '188px', height: '74px' });
lg1.innerHTML = lineLegend.map((it, i) =>
  `<div class="it" style="left:10px;top:${6.7 + i * 15}px;padding-left:33px">` +
  `<span class="ln" style="background:${it.color}"></span>${it.label}</div>`).join('');
page.appendChild(lg1);

const lg2 = document.createElement('div');
lg2.className = 'lgd';
Object.assign(lg2.style, { left: '888px', top: '37px', width: '200px', height: '44px' });
lg2.innerHTML = dotLegend.map((it, i) =>
  `<div class="it" style="left:0;top:${7 + i * 14.7}px;padding-left:21px">` +
  `<span class="dot" style="left:9px;background:${it.color}"></span>${it.label}</div>`).join('');
page.appendChild(lg2);
</script>
</body>
</html>
